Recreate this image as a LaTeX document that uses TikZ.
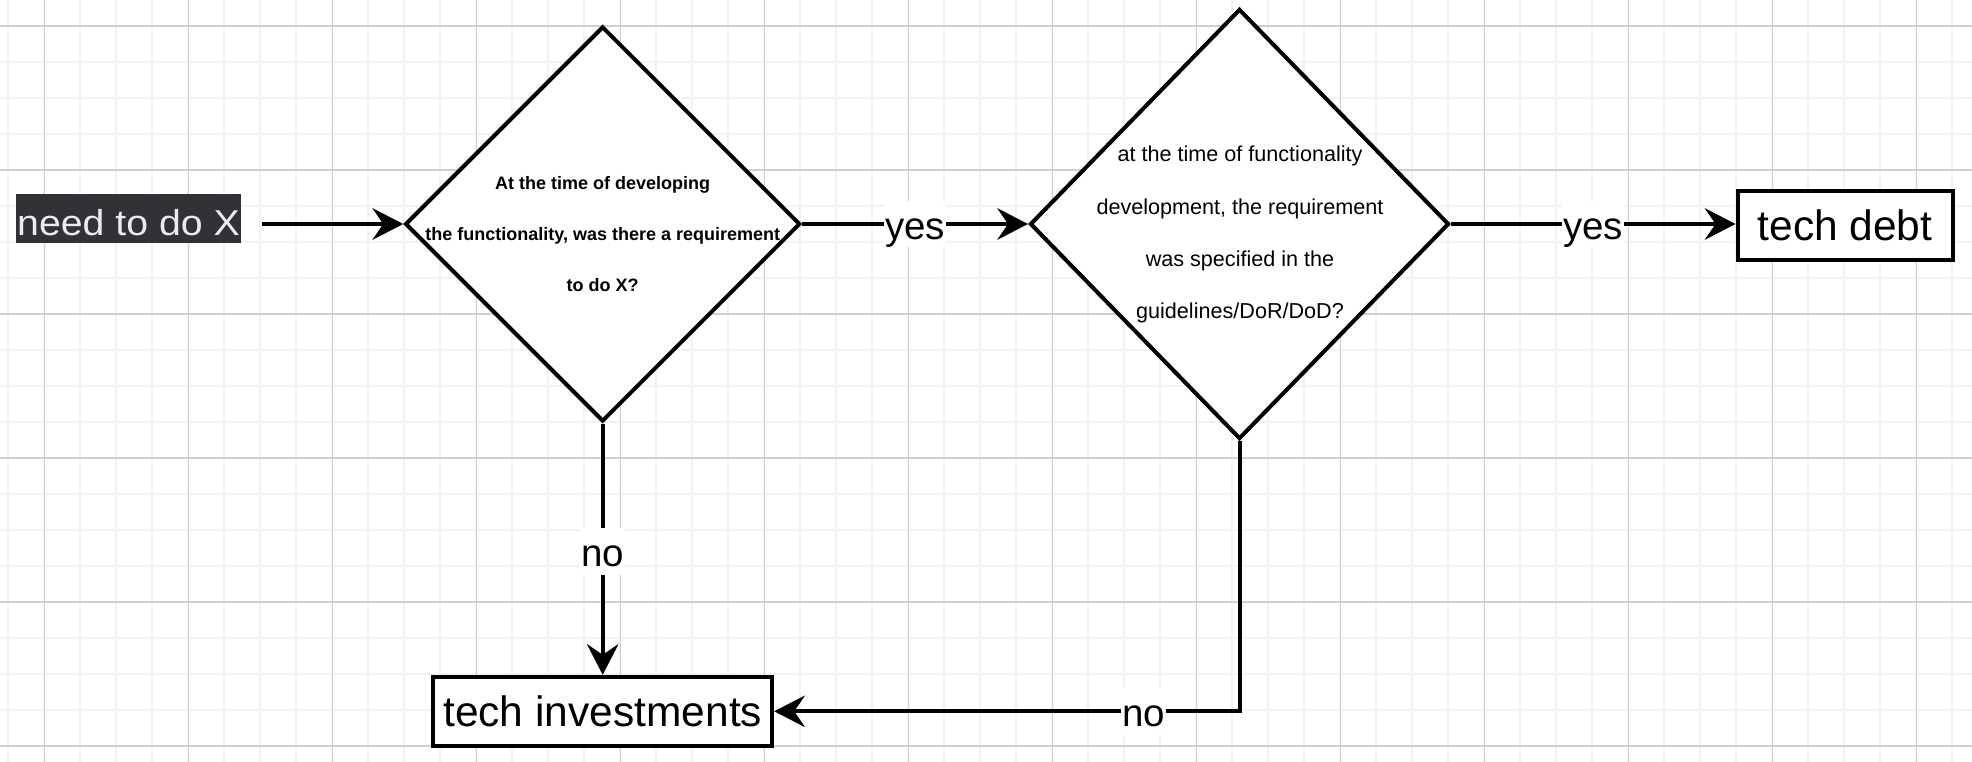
\documentclass[tikz,border=0pt]{standalone}
\usepackage{fontspec}
\setmainfont{Liberation Sans}
\usepackage{graphicx}
\usetikzlibrary{shapes.geometric,arrows.meta}

\definecolor{gridminor}{HTML}{F2F2F2}
\definecolor{gridmajor}{HTML}{D0D0D0}
\definecolor{tagbg}{HTML}{313236}
\definecolor{tagfg}{HTML}{EBEBED}

\begin{document}
\begin{tikzpicture}[x=1pt,y=-1pt,
  decision/.style={shape=diamond, draw=black, fill=white, line width=4pt,
    inner sep=0pt, line join=miter},
  qtext/.style={inner sep=0pt, align=center, anchor=north},
  outcome/.style={rectangle, draw=black, fill=white, line width=4pt,
    inner sep=0pt, font=\fontsize{42.5}{50}\selectfont,
    text height=39pt, text depth=8.5pt},
  tag/.style={rectangle, fill=tagbg, text=tagfg, inner sep=0pt,
    font=\fontsize{36}{44}\selectfont, minimum width=225pt,
    text height=41pt, text depth=7.7pt},
  conn/.style={line width=4pt,
    -{Stealth[length=31pt,width=32pt,inset=11pt,line width=0pt]}},
  lbl/.style={fill=white, inner xsep=1pt, inner ysep=0pt,
    font=\fontsize{38.5}{46}\selectfont, text height=38.5pt, text depth=8pt},
]
\useasboundingbox (0,0) rectangle (1972,762);

% background grid
\fill[white] (0,0) rectangle (1972,762);
\foreach \k in {0,...,54}
  \draw[gridminor, line width=2pt] ({8.3+36*\k},0) -- ({8.3+36*\k},762);
\foreach \k in {0,...,20}
  \draw[gridminor, line width=2pt] (0,{26+36*\k}) -- (1972,{26+36*\k});
\foreach \k in {0,...,13}
  \draw[gridmajor, line width=1.5pt] ({44.3+144*\k},0) -- ({44.3+144*\k},762);
\foreach \k in {0,...,5}
  \draw[gridmajor, line width=1.5pt] (0,{26+144*\k}) -- (1972,{26+144*\k});

% start label
\node[tag, anchor=base] (need) at (128.5,235) {\scalebox{1.09}[1]{need to do X}};

% decisions
\node[decision, minimum width=395pt, minimum height=395pt] (d1) at (602.7,224) {};
\node[qtext, font=\bfseries\fontsize{18}{51.2}\selectfont] (d1txt) at (602.7,176.2)
  {At the time of developing\\the functionality, was there a requirement\\to do X?};

\node[decision, minimum width=419pt, minimum height=430pt] (d2) at (1239.5,224) {};
\node[qtext, font=\fontsize{21.6}{52.2}\selectfont] (d2txt) at (1240,146)
  {at the time of functionality\\development, the requirement\\was specified in the\\guidelines/DoR/DoD?};

% outcomes
\node[outcome, minimum width=215pt, minimum height=69pt] (debt) at (1845,225.3) {tech debt};
\node[outcome, minimum width=339pt, minimum height=69pt] (inv) at (602.7,711.3) {tech investments};

% connectors
\coordinate (src) at ([xshift=20.5pt]need.east |- d1.west);
\draw[conn] (src) -- (d1.west);
\draw[conn] (d1.east) -- node[lbl] {yes} (d2.west);
\draw[conn] (d2.east) -- node[lbl] {yes} (d2.east -| debt.west);
\draw[conn] (d1.south) -- node[lbl, pos=0.51] {no} (inv.north);
\draw[conn] (d2.south) |- node[lbl, pos=0.603] {no} (inv.east);
\end{tikzpicture}
\end{document}
